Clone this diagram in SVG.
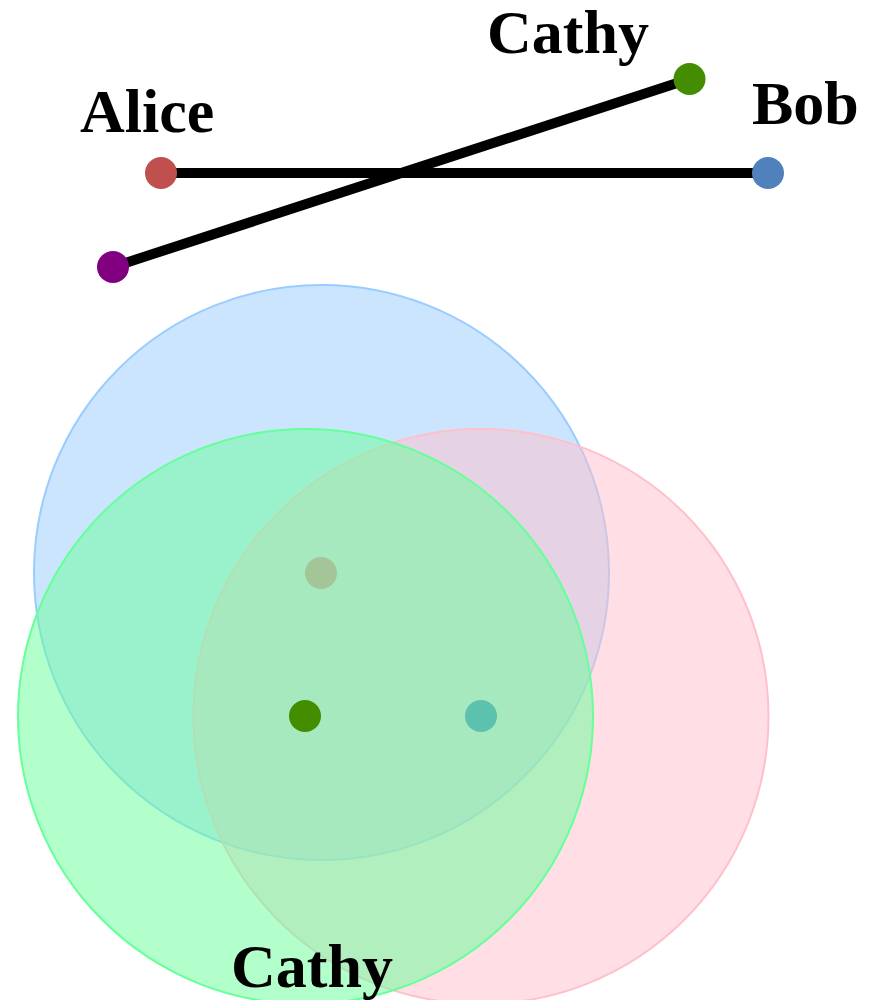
<svg xmlns="http://www.w3.org/2000/svg" width="873" height="1000" viewBox="0 0 873 1000">
  <style>
    .label { font-family: "Liberation Serif", "Times New Roman", serif; font-weight: bold; font-size: 62px; fill: #000; }
    .edge { stroke: #000; stroke-width: 10; fill: none; }
    .ring { stroke-width: 2; fill-opacity: 0.5; }
  </style>
  <rect width="873" height="1000" fill="#fff"/>

  <!-- overlapping sets -->
  <g id="sets">
    <circle id="set-blue" class="ring" cx="321.5" cy="572.5" r="287.5" fill="#99ccff" stroke="#99ccff"/>
    <circle id="set-pink" class="ring" cx="481" cy="716.5" r="287.5" fill="#ffc0cb" stroke="#ffc0cb"/>
    <circle id="set-green" class="ring" cx="305.5" cy="716.5" r="287.5" fill="#66ff99" stroke="#66ff99"/>
  </g>

  <!-- set centres -->
  <g id="centres">
    <circle cx="321" cy="573" r="16" fill="#a3c597"/>
    <circle cx="305" cy="716" r="16" fill="#448c00"/>
    <circle cx="481" cy="716" r="16" fill="#5cc1ad"/>
  </g>

  <!-- connectors -->
  <g id="edges">
    <line class="edge" x1="161" y1="173" x2="768" y2="173"/>
    <line class="edge" x1="113" y1="267" x2="689.5" y2="79"/>
  </g>

  <g id="node-alice">
    <circle cx="161" cy="173" r="16" fill="#c0504d"/>
    <text class="label" x="80" y="132">Alice</text>
  </g>
  <g id="node-bob">
    <circle cx="768" cy="173" r="16" fill="#4f81bd"/>
    <text class="label" x="752" y="124">Bob</text>
  </g>
  <g id="node-cathy">
    <circle cx="689.5" cy="79" r="16" fill="#448c00"/>
    <text class="label" x="487" y="53">Cathy</text>
  </g>
  <g id="node-purple">
    <circle cx="113" cy="267" r="16" fill="#800080"/>
  </g>

  <g id="set-label">
    <text class="label" x="231" y="987">Cathy</text>
  </g>
</svg>
